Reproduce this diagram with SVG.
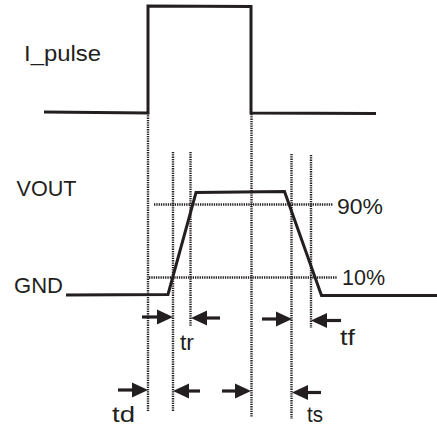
<svg xmlns="http://www.w3.org/2000/svg" width="437" height="429" viewBox="0 0 437 429">
<defs>
<style>
.wave{fill:none;stroke:#231f20;stroke-width:3;stroke-linejoin:miter}
.dot{fill:none;stroke:#231f20;stroke-width:2.4;stroke-dasharray:1.3 1}
.arr{fill:none;stroke:#231f20;stroke-width:3.2}
.lbl{font-family:"Liberation Sans",Arial,sans-serif;font-size:22px;fill:#231f20}
</style>
<marker id="ah" markerUnits="userSpaceOnUse" markerWidth="17" markerHeight="16" refX="5" refY="8" orient="auto">
<path d="M0,0.5 L16,8 L0,15.5 z" fill="#231f20"/>
</marker>
</defs>
<rect width="437" height="429" fill="#ffffff"/>
<g id="guides">
<path class="dot" d="M148,113 V412"/>
<path class="dot" d="M251.5,114 V417"/>
<path class="dot" d="M173,152 V412"/>
<path class="dot" d="M190.5,152 V326"/>
<path class="dot" d="M291.5,154 V419"/>
<path class="dot" d="M311,155 V328"/>
<path class="dot" d="M154,204.5 H333"/>
<path class="dot" d="M149,277.5 H337"/>
</g>
<g id="i_pulse">
<path class="wave" d="M44,112 L148,113 L148,6 L251,6.5 L251,113 L376,113.5"/>
<text class="lbl" x="24" y="60.5" font-size="26" textLength="77" lengthAdjust="spacingAndGlyphs">I_pulse</text>
</g>
<g id="vout">
<path class="wave" d="M66,295 L168,294.5 L196,192.5 L284.5,191.5 L321.5,295.5 L437,295.5"/>
<text class="lbl" x="16.5" y="195.5" textLength="60" lengthAdjust="spacingAndGlyphs">VOUT</text>
<text class="lbl" x="14" y="292.5" textLength="49" lengthAdjust="spacingAndGlyphs">GND</text>
<text class="lbl" x="337" y="214" textLength="46" lengthAdjust="spacingAndGlyphs">90%</text>
<text class="lbl" x="342" y="285" textLength="43" lengthAdjust="spacingAndGlyphs">10%</text>
</g>
<g id="connectors">
<line class="arr" x1="142" y1="317" x2="162" y2="317" marker-end="url(#ah)"/>
<line class="arr" x1="220" y1="318" x2="202" y2="318" marker-end="url(#ah)"/>
<line class="arr" x1="262" y1="319" x2="281" y2="319" marker-end="url(#ah)"/>
<line class="arr" x1="341" y1="320.5" x2="322" y2="320.5" marker-end="url(#ah)"/>
<line class="arr" x1="118" y1="390" x2="137" y2="390" marker-end="url(#ah)"/>
<line class="arr" x1="200" y1="391" x2="184" y2="391" marker-end="url(#ah)"/>
<line class="arr" x1="222" y1="391" x2="240" y2="391" marker-end="url(#ah)"/>
<line class="arr" x1="321" y1="392.5" x2="303" y2="392.5" marker-end="url(#ah)"/>
</g>
<g id="labels">
<text class="lbl" x="180" y="349.5" textLength="14" lengthAdjust="spacingAndGlyphs">tr</text>
<text class="lbl" x="340" y="345" textLength="15" lengthAdjust="spacingAndGlyphs">tf</text>
<text class="lbl" x="112" y="421.5" textLength="23" lengthAdjust="spacingAndGlyphs">td</text>
<text class="lbl" x="307" y="421.5" textLength="16" lengthAdjust="spacingAndGlyphs">ts</text>
</g>
</svg>
